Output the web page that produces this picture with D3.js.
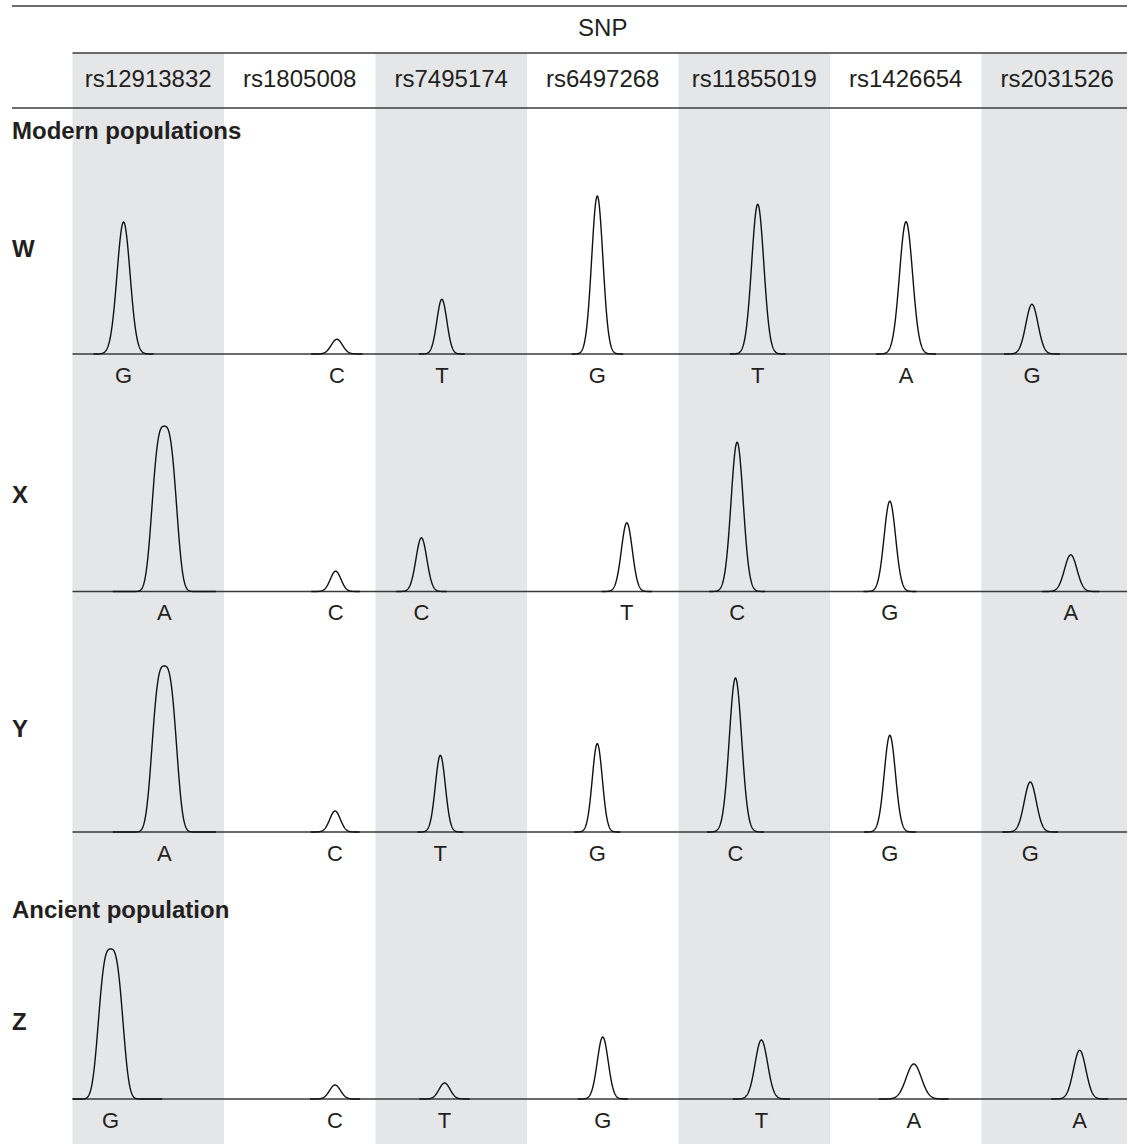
<!DOCTYPE html>
<html>
<head>
<meta charset="utf-8">
<script src="https://cdn.jsdelivr.net/npm/d3@7"></script>
<style>
  html, body { margin: 0; padding: 0; background: #ffffff; }
  svg { display: block; }
  text { font-family: "Liberation Sans", Arial, Helvetica, sans-serif; fill: #231f20; }
</style>
</head>
<body>
<svg id="chart" width="1127" height="1144"></svg>
<script>
// SNP markers (columns of the electropherogram panel)
const snps = ["rs12913832", "rs1805008", "rs7495174", "rs6497268", "rs11855019", "rs1426654", "rs2031526"];

// Population W: called allele, peak position (in SNP-column units), peak signal (RFU), peak width (sigma, column units), peak shape exponent
const allelesW = ["G", "C", "T", "G", "T", "A", "G"];
const posW     = [0.337, 1.745, 2.438, 3.464, 4.523, 5.502, 6.333];
const rfuW     = [1320, 147, 547, 1580, 1497, 1323, 497];
const sigmaW   = [0.043, 0.037, 0.033, 0.037, 0.040, 0.043, 0.040];
const shapeW   = [2, 2, 2, 2, 2, 2, 2];

// Population X
const allelesX = ["A", "C", "C", "T", "C", "G", "A"];
const posX     = [0.606, 1.737, 2.303, 3.659, 4.387, 5.395, 6.589];
const rfuX     = [1653, 203, 537, 687, 1493, 903, 367];
const sigmaX   = [0.074, 0.035, 0.036, 0.036, 0.040, 0.038, 0.041];
const shapeX   = [3, 2, 2, 2, 2, 2, 2];

// Population Y
const allelesY = ["A", "C", "T", "G", "C", "G", "G"];
const posY     = [0.606, 1.733, 2.428, 3.464, 4.376, 5.395, 6.322];
const rfuY     = [1660, 210, 767, 883, 1540, 967, 500];
const sigmaY   = [0.074, 0.035, 0.033, 0.033, 0.041, 0.037, 0.040];
const shapeY   = [3, 2, 2, 2, 2, 2, 2];

// Population Z (ancient)
const allelesZ = ["G", "C", "T", "G", "T", "A", "A"];
const posZ     = [0.252, 1.733, 2.456, 3.500, 4.547, 5.553, 6.648];
const rfuZ     = [1500, 140, 160, 620, 590, 350, 487];
const sigmaZ   = [0.074, 0.036, 0.036, 0.036, 0.041, 0.050, 0.041];
const shapeZ   = [3, 2, 2, 2, 2, 2, 2];

const groupLabels = ["Modern populations", "Ancient population"];

// ---- layout ----
const W = 1127, H = 1144;
const plotLeft = 72.5, colWidth = 151.5;
const plotRight = plotLeft + colWidth * snps.length;
const fontSize = 24;

const svg = d3.select("#chart");

const band = d3.scaleBand().domain(snps).range([plotLeft, plotRight]).padding(0);
const x = d3.scaleLinear().domain([0, snps.length]).range([plotLeft, plotRight]);
const y = d3.scaleLinear().domain([0, 1700]).range([0, 170]);

const rows = [
  { name: "W", baseline: 354,   labelY: 251,  alleles: allelesW, pos: posW, rfu: rfuW, sigma: sigmaW, shape: shapeW },
  { name: "X", baseline: 591.5, labelY: 497,  alleles: allelesX, pos: posX, rfu: rfuX, sigma: sigmaX, shape: shapeX },
  { name: "Y", baseline: 832,   labelY: 731,  alleles: allelesY, pos: posY, rfu: rfuY, sigma: sigmaY, shape: shapeY },
  { name: "Z", baseline: 1099,  labelY: 1024, alleles: allelesZ, pos: posZ, rfu: rfuZ, sigma: sigmaZ, shape: shapeZ }
];

// traces stay inside the plotting area
svg.append("defs").append("clipPath").attr("id", "plot-clip")
  .append("rect").attr("x", plotLeft).attr("y", 0).attr("width", W - plotLeft).attr("height", H);

// alternating column shading
svg.append("g").selectAll("rect")
  .data(snps.filter((d, i) => i % 2 === 0))
  .join("rect")
  .attr("x", d => band(d))
  .attr("y", 53)
  .attr("width", band.bandwidth())
  .attr("height", H - 53)
  .attr("fill", "#e5e6e8");

// header rules
const rule = (x1, x2, yy) => svg.append("line")
  .attr("x1", x1).attr("x2", x2).attr("y1", yy).attr("y2", yy)
  .attr("stroke", "#3c3c3c").attr("stroke-width", 1.5);
rule(12, W, 6);
rule(plotLeft, W, 53);
rule(12, W, 108);

// header text
svg.append("text")
  .attr("x", (plotLeft + plotRight) / 2).attr("y", 30)
  .attr("text-anchor", "middle").attr("dominant-baseline", "middle")
  .attr("font-size", fontSize)
  .text("SNP");

svg.append("g").selectAll("text")
  .data(snps)
  .join("text")
  .attr("x", d => band(d) + band.bandwidth() / 2)
  .attr("y", 81)
  .attr("text-anchor", "middle").attr("dominant-baseline", "middle")
  .attr("font-size", fontSize)
  .text(d => d);

// population group headings
svg.append("text").attr("x", 12).attr("y", 139)
  .attr("font-size", fontSize).attr("font-weight", "bold").text(groupLabels[0]);
svg.append("text").attr("x", 12).attr("y", 918)
  .attr("font-size", fontSize).attr("font-weight", "bold").text(groupLabels[1]);

// signal trace generator
const trace = d3.line().x(d => d[0]).y(d => d[1]);
function peakPoints(row, i) {
  const c = row.pos[i], s = row.sigma[i], p = row.shape[i], h = row.rfu[i];
  const span = 4.6 * s;
  const pts = [];
  const n = 240;
  for (let k = 0; k <= n; k++) {
    const u = c - span + (2 * span * k) / n;
    const z = Math.abs((u - c) / s);
    const v = h * Math.exp(-0.5 * Math.pow(z, p));
    pts.push([x(u), row.baseline - y(v)]);
  }
  return pts;
}

rows.forEach(row => {
  const g = svg.append("g");

  // row name
  g.append("text")
    .attr("x", 12).attr("y", row.labelY)
    .attr("dominant-baseline", "middle")
    .attr("font-size", fontSize).attr("font-weight", "bold")
    .text(row.name);

  // baseline axis
  g.append("line")
    .attr("x1", plotLeft).attr("x2", W)
    .attr("y1", row.baseline).attr("y2", row.baseline)
    .attr("stroke", "#3a3a3a").attr("stroke-width", 1.6);

  // peaks
  g.append("g").attr("clip-path", "url(#plot-clip)")
    .selectAll("path")
    .data(row.pos.map((d, i) => i))
    .join("path")
    .attr("d", i => trace(peakPoints(row, i)))
    .attr("fill", "none")
    .attr("stroke", "#111")
    .attr("stroke-width", 1.4)
    .attr("stroke-linejoin", "round");

  // allele calls
  g.selectAll("text.allele")
    .data(row.alleles)
    .join("text")
    .attr("class", "allele")
    .attr("x", (d, i) => x(row.pos[i]))
    .attr("y", row.baseline + 23)
    .attr("text-anchor", "middle").attr("dominant-baseline", "middle")
    .attr("font-size", 22)
    .text(d => d);
});
</script>
</body>
</html>
